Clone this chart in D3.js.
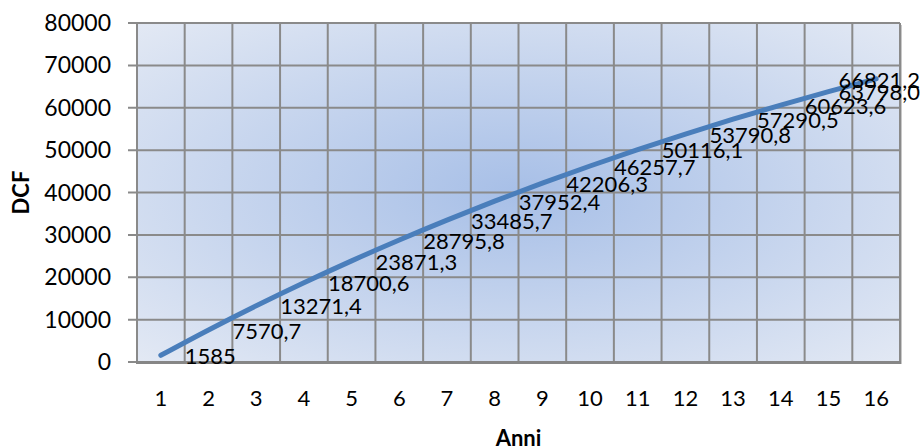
<!DOCTYPE html>
<html><head><meta charset="utf-8">
<script src="https://cdn.jsdelivr.net/npm/d3@7"></script>
<style>html,body{margin:0;padding:0;background:#fff}svg{display:block}</style>
</head><body>
<svg id="c" width="924" height="448"></svg>
<script>
const categories = ["1","2","3","4","5","6","7","8","9","10","11","12","13","14","15","16"];
const dcfValues = [1585, 7570.7, 13271.4, 18700.6, 23871.3, 28795.8, 33485.7, 37952.4, 42206.3, 46257.7, 50116.1, 53790.8, 57290.5, 60623.6, 63798.0, 66821.2];
const dcfLabels = ["1585","7570,7","13271,4","18700,6","23871,3","28795,8","33485,7","37952,4","42206,3","46257,7","50116,1","53790,8","57290,5","60623,6","63798,0","66821,2"];
const yTicks = [0,10000,20000,30000,40000,50000,60000,70000,80000];
const xTitle = "Anni", yTitle = "DCF";

const svg = d3.select("#c");
const font = "Lato, 'Open Sans', sans-serif";
const L = 137, R = 900, T = 23, B = 362;
const x = d3.scaleBand().domain(categories).range([L, R]).padding(0);
const y = d3.scaleLinear().domain([0, 80000]).range([B, T]);

const defs = svg.append("defs");
const g = defs.append("radialGradient").attr("id","bg").attr("cx","50%").attr("cy","50%").attr("r","71%");
g.append("stop").attr("offset","0%").attr("stop-color","#a7bfe7");
g.append("stop").attr("offset","100%").attr("stop-color","#e3e9f4");

svg.append("rect").attr("x",L+2).attr("y",T+2).attr("width",R-L).attr("height",B-T).attr("fill","#c8c8c8");
svg.append("rect").attr("x",L).attr("y",T).attr("width",R-L).attr("height",B-T).attr("fill","url(#bg)");

const grid = "#8a8a8a";
svg.append("g").selectAll("line").data(yTicks).join("line")
  .attr("x1",L-9).attr("x2",R).attr("y1",d=>y(d)).attr("y2",d=>y(d))
  .attr("stroke",grid).attr("stroke-width",2);
svg.append("g").selectAll("line").data(categories).join("line")
  .attr("x1",d=>x(d)+x.bandwidth()).attr("x2",d=>x(d)+x.bandwidth())
  .attr("y1",T).attr("y2",B).attr("stroke",grid).attr("stroke-width",2);
svg.append("line").attr("x1",L).attr("x2",L).attr("y1",T-1).attr("y2",B).attr("stroke",grid).attr("stroke-width",2);
svg.append("line").attr("x1",L-1).attr("x2",R+1).attr("y1",B+0.5).attr("y2",B+0.5).attr("stroke","#868686").attr("stroke-width",3);

svg.append("g").selectAll("text").data(yTicks).join("text")
  .attr("x",111).attr("y",d=>y(d)).attr("dy","0.35em").attr("text-anchor","end")
  .attr("font-family",font).attr("font-size",23).attr("fill","#000").text(d=>d);
svg.append("g").selectAll("text").data(categories).join("text")
  .attr("x",d=>x(d)+x.bandwidth()/2).attr("y",398).attr("dy","0.35em").attr("text-anchor","middle")
  .attr("font-family",font).attr("font-size",22).attr("fill","#000").text(d=>d);

svg.append("text").attr("x",(L+R)/2).attr("y",438).attr("dy","0.35em").attr("text-anchor","middle")
  .attr("font-family",font).attr("font-size",22).attr("font-weight","bold").text(xTitle);
svg.append("text").attr("transform",`translate(21,${(T+B)/2}) rotate(-90)`).attr("dy","0.35em").attr("text-anchor","middle")
  .attr("font-family",font).attr("font-size",22).attr("font-weight","bold").text(yTitle);

const pts = categories.map((c,i)=>[x(c)+x.bandwidth()/2, y(dcfValues[i])]);
svg.append("path").attr("d", d3.line().curve(d3.curveCatmullRom.alpha(0))(pts))
  .attr("fill","none").attr("stroke","#4a7ebb").attr("stroke-width",5).attr("stroke-linecap","round");

const lbl = svg.append("g");
pts.forEach((p,i)=>{
  const t = lbl.append("text").attr("x",p[0]+24).attr("y",p[1]+1).attr("dy","0.35em")
    .attr("font-family",font).attr("font-size",22).attr("fill","#000").text(dcfLabels[i]);
  const w = t.node().getComputedTextLength();
  if (p[0]+24+w > 920) t.attr("x", 920-w);
});
</script>
</body></html>
